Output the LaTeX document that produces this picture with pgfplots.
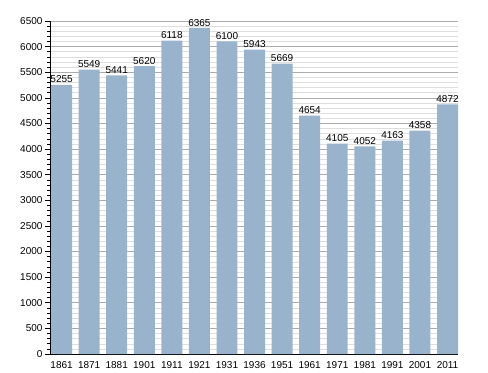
\documentclass[border=0pt]{standalone}
\usepackage{pgfplots}
\pgfplotsset{compat=1.18}
\usepackage{fontspec}
\setmainfont{Liberation Sans}
\definecolor{barc}{HTML}{9AB3CD}
\definecolor{majg}{HTML}{ABABAB}
\definecolor{ming}{HTML}{DEDEDE}
\begin{document}
\begin{tikzpicture}
\path[use as bounding box] (-50bp,-19bp) rectangle (438bp,354bp);
\begin{axis}[
  anchor=south west, at={(0,0)},
  scale only axis, width=408bp, height=333bp,
  xmin=-0.42, xmax=14.38, ymin=0, ymax=6500,
  axis x line*=bottom, axis y line*=left,
  axis line style={black, line width=0.8pt},
  ytick distance=500, minor y tick num=4,
  xtick=data,
  xticklabels={1861,1871,1881,1901,1911,1921,1931,1936,1951,1961,1971,1981,1991,2001,2011},
  x tick style={draw=none},
  y tick style={black, line width=0.6pt},
  tick align=outside,
  major tick length=5bp, minor tick length=2.5bp,
  ymajorgrids, yminorgrids,
  major grid style={majg, line width=0.6pt},
  minor grid style={ming, line width=0.5pt},
  tick label style={font=\fontsize{10bp}{12bp}\selectfont},
  /pgf/number format/assume math mode=true,
  /pgf/number format/1000 sep={},
  yticklabel style={xshift=1bp},
  xticklabel style={yshift=1bp},
  clip=false,
  nodes near coords,
  nodes near coords style={font=\fontsize{10bp}{12bp}\selectfont, black, inner sep=1.5bp, /pgf/number format/1000 sep={}},
]
\addplot[ybar, bar width=0.76, fill=barc, draw=none, bar shift=0pt] coordinates {
(0,5255) (1,5549) (2,5441) (3,5620) (4,6118) (5,6365) (6,6100) (7,5943)
(8,5669) (9,4654) (10,4105) (11,4052) (12,4163) (13,4358) (14,4872)};
\draw[black, line width=0.8pt] (axis cs:-0.42,0) -- ++(-5bp,0);
\end{axis}
\end{tikzpicture}
\end{document}
